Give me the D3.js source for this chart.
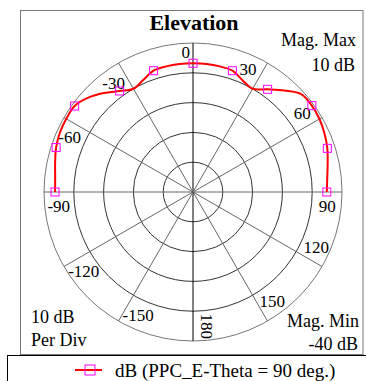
<!DOCTYPE html>
<meta charset="utf-8">
<script src="https://cdn.jsdelivr.net/npm/d3@7/dist/d3.min.js"></script>
<style>
body {
  margin: 0;
  background: #fff;
}
text {
  font-family: "Liberation Serif", "Times New Roman", serif;
  fill: #000;
}
</style>
<body>
<script>

  // Pattern data: angle (deg) and gain (dB)
  var angles = [-90, -84, -78, -72, -66, -60, -54, -48, -42, -36, -30, -24, -18, -12, -6,
                0, 6, 12, 18, 24, 30, 36, 42, 48, 54, 60, 66, 72, 78, 84, 90];
  var gains = [6.3, 6.5, 7.3, 8.3, 8.9, 9.1, 9.1, 7.3, 4.7, 1.9, 0.0, 1.1, 2.8, 3.1, 3.2,
               3.2, 3.2, 3.1, 2.8, 1.0, 0.0, 2.6, 5.8, 9.0, 9.3, 9.0, 8.3, 7.4, 6.2, 5.3, 4.9];
  var markerStep = 18;

  var ringTicks = [-30, -20, -10, 0, 10];
  var angleTicks = [0, 30, 60, 90, 120, 150, 180, -150, -120, -90, -60, -30];
  var magMin = -40, magMax = 10;

  var seriesName = "dB (PPC_E-Theta = 90 deg.)";

  var width = 366, height = 381;
  var cx = 193, cy = 192, outerR = 149;

  var svg = d3.select("body").append("svg")
    .attr("width", width)
    .attr("height", height);

  // radius scale (dB -> px)
  var r = d3.scaleLinear().domain([magMin, magMax]).range([0, outerR]);

  function pt(a, rad) {
    var t = a * Math.PI / 180;
    return [cx + rad * Math.sin(t), cy - rad * Math.cos(t)];
  }

  // frame
  svg.append("rect")
    .attr("x", 20.5).attr("y", 10.5)
    .attr("width", 342.5).attr("height", 344)
    .attr("fill", "none")
    .attr("stroke", "#777");

  var g = svg.append("g");

  // rings
  g.selectAll(".ring")
    .data(ringTicks)
    .enter().append("circle")
    .attr("class", "ring")
    .attr("cx", cx).attr("cy", cy)
    .attr("r", function(d) { return r(d); })
    .attr("fill", "none")
    .attr("stroke", function(d) { return d === magMax ? "#777" : "#333"; })
    .attr("stroke-width", 1);

  // spokes
  g.selectAll(".spoke")
    .data(angleTicks)
    .enter().append("line")
    .attr("class", "spoke")
    .attr("x1", cx).attr("y1", cy)
    .attr("x2", function(d) { return pt(d, outerR)[0]; })
    .attr("y2", function(d) { return pt(d, outerR)[1]; })
    .attr("stroke", function(d) { return (d === 0 || d === 180) ? "#000" : "#666"; })
    .attr("stroke-width", 1);

  // angle labels
  g.selectAll(".alabel")
    .data(angleTicks)
    .enter().append("text")
    .attr("class", "alabel")
    .attr("font-size", "17px")
    .attr("text-anchor", "middle")
    .attr("dy", "0.35em")
    .attr("transform", function(d) {
      var p = d === 0 ? pt(-3, 140) : pt(d + (d === 90 ? 6 : -6), 135);
      return "translate(" + p[0] + "," + p[1] + ")" + (d === 180 ? " rotate(90)" : "");
    })
    .text(function(d) { return d; });

  // curve
  var pts = angles.map(function(a, i) { return pt(a, r(gains[i])); });
  var line = d3.line().curve(d3.curveCatmullRom.alpha(0.5));

  g.append("path")
    .attr("d", line(pts))
    .attr("fill", "none")
    .attr("stroke", "#ff0000")
    .attr("stroke-width", 2);

  // markers
  var ms = 8;
  g.selectAll(".marker")
    .data(angles.map(function(a, i) { return {a: a, v: gains[i]}; })
      .filter(function(d) { return d.a % markerStep === 0; }))
    .enter().append("rect")
    .attr("class", "marker")
    .attr("x", function(d) { return pt(d.a, r(d.v))[0] - ms / 2; })
    .attr("y", function(d) { return pt(d.a, r(d.v))[1] - ms / 2; })
    .attr("width", ms).attr("height", ms)
    .attr("fill", "none")
    .attr("stroke", "#ff00ff")
    .attr("stroke-width", 1);

  // titles and annotations
  svg.append("text")
    .text("Elevation")
    .attr("x", 194).attr("y", 30)
    .attr("text-anchor", "middle")
    .attr("font-weight", "bold")
    .attr("font-size", "22px");

  var notes = [
    {t: "Mag. Max", x: 356, y: 46, anchor: "end"},
    {t: magMax + " dB", x: 355, y: 71, anchor: "end"},
    {t: "10 dB", x: 31, y: 323, anchor: "start"},
    {t: "Per Div", x: 31, y: 346, anchor: "start"},
    {t: "Mag. Min", x: 359, y: 327, anchor: "end"},
    {t: magMin + " dB", x: 358, y: 350, anchor: "end"}
  ];
  svg.selectAll(".note")
    .data(notes)
    .enter().append("text")
    .attr("class", "note")
    .attr("x", function(d) { return d.x; })
    .attr("y", function(d) { return d.y; })
    .attr("text-anchor", function(d) { return d.anchor; })
    .attr("font-size", "18px")
    .text(function(d) { return d.t; });

  // legend
  var legend = svg.append("g");
  legend.append("rect")
    .attr("x", 7.5).attr("y", 355.5)
    .attr("width", 370).attr("height", 40)
    .attr("fill", "#fff")
    .attr("stroke", "#000");
  legend.append("line")
    .attr("x1", 75).attr("x2", 102)
    .attr("y1", 370).attr("y2", 370)
    .attr("stroke", "#ff0000")
    .attr("stroke-width", 2);
  legend.append("rect")
    .attr("x", 85).attr("y", 365)
    .attr("width", 10).attr("height", 10)
    .attr("fill", "none")
    .attr("stroke", "#ff00ff");
  legend.append("text")
    .attr("x", 115).attr("y", 377)
    .attr("font-size", "19px")
    .text(seriesName);

</script>
</body>
